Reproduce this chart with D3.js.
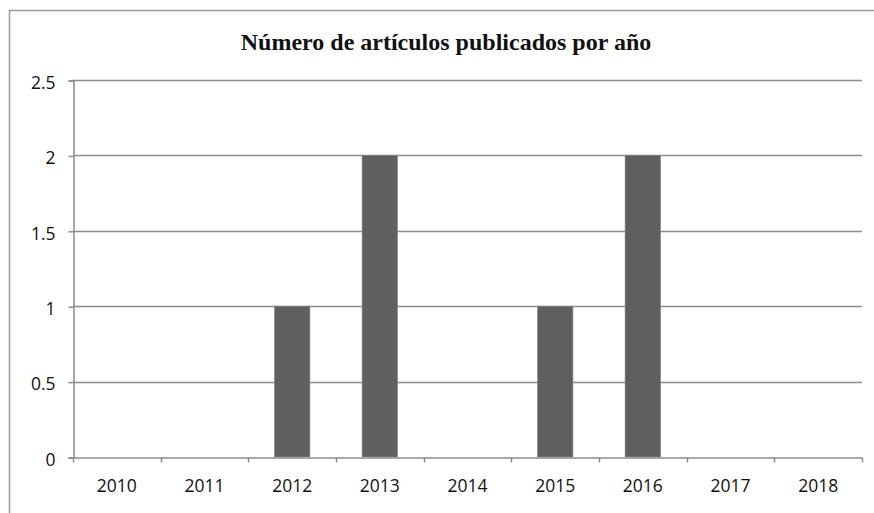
<!DOCTYPE html>
<html><head><meta charset="utf-8">
<script src="https://cdn.jsdelivr.net/npm/d3@7"></script>
<style>html,body{margin:0;padding:0;background:#fff;}svg{display:block;}</style>
</head><body>
<script>
const years = ["2010","2011","2012","2013","2014","2015","2016","2017","2018"];
const counts = [0,0,1,2,0,1,2,0,0];
const yTicks = [0,0.5,1,1.5,2,2.5];
const yTickLabels = ["0","0.5","1","1.5","2","2.5"];
const title = "Número de artículos publicados por año";

const W = 874, H = 513;
const m = {left:73, right:12, top:80, bottom:56};
const svg = d3.select("body").append("svg").attr("width",W).attr("height",H);

// frame
svg.append("path").attr("d","M9.5,513 L9.5,10.5 L874,10.5").attr("fill","none").attr("stroke","#9a9a9a").attr("stroke-width",1.5);

const x = d3.scaleBand().domain(years).range([m.left, W-m.right]).paddingInner(0).paddingOuter(0);
const y = d3.scaleLinear().domain([0,2.5]).range([H-m.bottom, m.top]);

// gridlines
svg.append("g").selectAll("line").data(yTicks.filter(d=>d>0)).join("line")
  .attr("x1",m.left).attr("x2",W-m.right)
  .attr("y1",d=>Math.round(y(d))+0.5).attr("y2",d=>Math.round(y(d))+0.5)
  .attr("stroke","#8c8c8c").attr("stroke-width",1.5);

// bars
const bw = x.bandwidth()*0.405;
svg.append("g").selectAll("rect").data(years.map((c,i)=>({c,v:counts[i]})).filter(d=>d.v>0)).join("rect")
  .attr("x",d=>x(d.c)+x.bandwidth()/2-bw/2).attr("width",bw)
  .attr("y",d=>y(d.v)).attr("height",d=>y(0)-y(d.v))
  .attr("fill","#5f5f5f").attr("stroke","#8a8a8a").attr("stroke-width",0.6);

// y axis
const yAxis = d3.axisLeft(y).tickValues(yTicks).tickFormat((d,i)=>yTickLabels[i]).tickSize(5).tickPadding(13);
const gy = svg.append("g").attr("transform",`translate(${m.left+0.5},0.5)`).call(yAxis);
// x axis
const xAxis = d3.axisBottom(x).tickSize(0).tickPadding(24);
const gx = svg.append("g").attr("transform",`translate(0,${Math.round(y(0))+0.5})`).call(xAxis);
// x ticks at band boundaries
const bounds = years.map(c=>x(c)).concat([W-m.right]);
gx.append("g").selectAll("line").data(bounds).join("line")
  .attr("x1",d=>Math.round(d)+0.5).attr("x2",d=>Math.round(d)+0.5).attr("y1",0).attr("y2",5)
  .attr("stroke","#8c8c8c").attr("stroke-width",1.5);

[gx,gy].forEach(g=>{
  g.select(".domain").attr("stroke","#8c8c8c").attr("stroke-width",1.5);
  g.selectAll(".tick line").attr("stroke","#8c8c8c").attr("stroke-width",1.5);
  g.selectAll("text").attr("font-family","'Open Sans', sans-serif").attr("font-size",17.5).attr("fill","#111");
});
gy.selectAll("text").attr("dy","0.45em");
gx.selectAll("text").attr("dy","0.62em");

svg.append("text").attr("x",446).attr("y",50).attr("text-anchor","middle")
  .attr("font-family","'Liberation Serif', 'Times New Roman', serif").attr("font-weight","bold")
  .attr("font-size",24).attr("fill","#111").text(title);
</script>
</body></html>
